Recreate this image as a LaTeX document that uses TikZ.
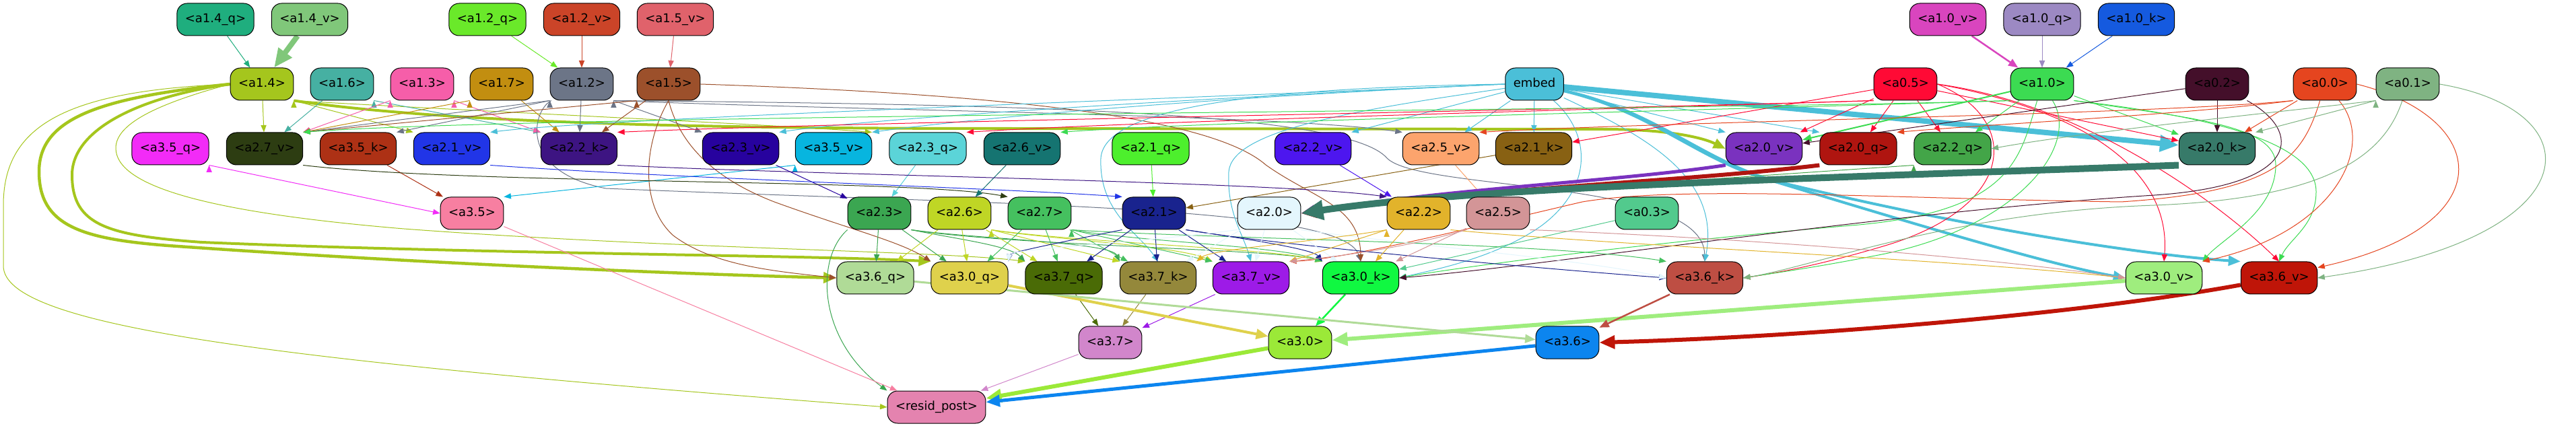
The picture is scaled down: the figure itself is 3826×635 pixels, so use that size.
\documentclass[tikz,border=0pt]{standalone}
\usepackage{fontspec}
\setmainfont{DejaVu Sans}
\usetikzlibrary{arrows.meta,backgrounds}

\definecolor{c14q}{HTML}{1FAE7E}
\definecolor{c14v}{HTML}{80C77A}
\definecolor{c14}{HTML}{A5C61D}
\definecolor{c16}{HTML}{46B0A2}
\definecolor{c13}{HTML}{F65EA9}
\definecolor{c17}{HTML}{C28E10}
\definecolor{c12q}{HTML}{6AE92A}
\definecolor{c12v}{HTML}{CB4428}
\definecolor{c15v}{HTML}{E0626B}
\definecolor{c12}{HTML}{6C7587}
\definecolor{c15}{HTML}{9C502B}
\definecolor{c35q}{HTML}{F22BF7}
\definecolor{c27v}{HTML}{2D3D12}
\definecolor{c35k}{HTML}{AD3115}
\definecolor{c21v}{HTML}{2135E7}
\definecolor{c22k}{HTML}{3D1482}
\definecolor{c23v}{HTML}{27029E}
\definecolor{c35v}{HTML}{07B5DF}
\definecolor{c23q}{HTML}{5BD4D8}
\definecolor{c26v}{HTML}{157471}
\definecolor{c21q}{HTML}{4DEF2D}
\definecolor{c22v}{HTML}{4D16EF}
\definecolor{c25v}{HTML}{FCA46D}
\definecolor{c21k}{HTML}{886113}
\definecolor{cemb}{HTML}{4BBFD8}
\definecolor{c20v}{HTML}{7A32BF}
\definecolor{c20q}{HTML}{AF1510}
\definecolor{c22q}{HTML}{43A548}
\definecolor{c20k}{HTML}{377A69}
\definecolor{c05}{HTML}{FF0A35}
\definecolor{c10}{HTML}{3CDB52}
\definecolor{c10v}{HTML}{D945BE}
\definecolor{c10q}{HTML}{9C89C3}
\definecolor{c10k}{HTML}{155ADF}
\definecolor{c02}{HTML}{440F2A}
\definecolor{c00}{HTML}{E5451F}
\definecolor{c01}{HTML}{7FB382}
\definecolor{c35}{HTML}{F77FA1}
\definecolor{c23}{HTML}{3BA651}
\definecolor{c26}{HTML}{BFD625}
\definecolor{c27}{HTML}{45C05F}
\definecolor{c21}{HTML}{19238E}
\definecolor{c20}{HTML}{E4F6FD}
\definecolor{c22}{HTML}{E2B32B}
\definecolor{c25}{HTML}{D39597}
\definecolor{c03}{HTML}{52CA8D}
\definecolor{c36q}{HTML}{B0DB97}
\definecolor{c30q}{HTML}{DFD14C}
\definecolor{c37q}{HTML}{4A6B06}
\definecolor{c37k}{HTML}{94883B}
\definecolor{c37v}{HTML}{9D1BE7}
\definecolor{c30k}{HTML}{10F841}
\definecolor{c36k}{HTML}{BE4E43}
\definecolor{c30v}{HTML}{9FED7E}
\definecolor{c36v}{HTML}{BF1508}
\definecolor{c37}{HTML}{D186CB}
\definecolor{c30}{HTML}{9BE938}
\definecolor{c36}{HTML}{0C85EF}
\definecolor{crp}{HTML}{E483AF}

\tikzset{
	box/.style={draw=black, line width=1pt, rounded corners=15pt, minimum height=48pt,
		inner xsep=12pt, inner ysep=0pt, text height=13pt, text depth=4pt,
		font=\fontsize{18}{20}\selectfont},
	wire/.style={line width=#1, -{Triangle[length=8pt 2.5,width=6pt 2.2]}},
	wire/.default=1pt
}

\begin{document}
\begin{tikzpicture}[x=1pt,y=1pt]

	\useasboundingbox (0,0) rectangle (3826,635);

	% inputs
	\node [box, fill=c14q] (a14q) at (320,606) {<a1.4\_q>};
	\node [box, fill=c14v] (a14v) at (460,606) {<a1.4\_v>};
	\node [box, fill=c12q] (a12q) at (724,606) {<a1.2\_q>};
	\node [box, fill=c12v] (a12v) at (864,606) {<a1.2\_v>};
	\node [box, fill=c15v] (a15v) at (1003,606) {<a1.5\_v>};
	\node [box, fill=c10v] (a10v) at (2893,606) {<a1.0\_v>};
	\node [box, fill=c10q] (a10q) at (3033,606) {<a1.0\_q>};
	\node [box, fill=c10k] (a10k) at (3173,606) {<a1.0\_k>};

	\node [box, fill=c14] (a14) at (389,510) {<a1.4>};
	\node [box, fill=c16] (a16) at (508,510) {<a1.6>};
	\node [box, fill=c13] (a13) at (627,510) {<a1.3>};
	\node [box, fill=c17] (a17) at (745,510) {<a1.7>};
	\node [box, fill=c12] (a12) at (864,510) {<a1.2>};
	\node [box, fill=c15] (a15) at (993,510) {<a1.5>};
	\node [box, fill=cemb] (emb) at (2279,510) {embed};
	\node [box, fill=c05] (a05) at (2830,510) {<a0.5>};
	\node [box, fill=c10] (a10) at (3033,510) {<a1.0>};
	\node [box, fill=c02] (a02) at (3293,510) {<a0.2>};
	\node [box, fill=c00] (a00) at (3453,510) {<a0.0>};
	\node [box, fill=c01] (a01) at (3576,510) {<a0.1>};

	\node [box, fill=c35q] (a35q) at (253,414) {<a3.5\_q>};
	\node [box, fill=c27v] (a27v) at (393,414) {<a2.7\_v>};
	\node [box, fill=c35k] (a35k) at (532,414) {<a3.5\_k>};
	\node [box, fill=c21v] (a21v) at (671,414) {<a2.1\_v>};
	\node [box, fill=c22k] (a22k) at (860,414) {<a2.2\_k>};
	\node [box, fill=c23v] (a23v) at (1100,414) {<a2.3\_v>};
	\node [box, fill=c35v] (a35v) at (1238,414) {<a3.5\_v>};
	\node [box, fill=c23q] (a23q) at (1378,414) {<a2.3\_q>};
	\node [box, fill=c26v] (a26v) at (1518,414) {<a2.6\_v>};
	\node [box, fill=c21q] (a21q) at (1709,414) {<a2.1\_q>};
	\node [box, fill=c22v] (a22v) at (1950,414) {<a2.2\_v>};
	\node [box, fill=c25v] (a25v) at (2140,414) {<a2.5\_v>};
	\node [box, fill=c21k] (a21k) at (2278,414) {<a2.1\_k>};
	\node [box, fill=c20v] (a20v) at (2620,414) {<a2.0\_v>};
	\node [box, fill=c20q] (a20q) at (2760,414) {<a2.0\_q>};
	\node [box, fill=c22q] (a22q) at (2900,414) {<a2.2\_q>};
	\node [box, fill=c20k] (a20k) at (3293,414) {<a2.0\_k>};

	\node [box, fill=c35] (a35) at (701,318) {<a3.5>};
	\node [box, fill=c23] (a23) at (1306,318) {<a2.3>};
	\node [box, fill=c26] (a26) at (1425,318) {<a2.6>};
	\node [box, fill=c27] (a27) at (1544,318) {<a2.7>};
	\node [box, fill=c21] (a21) at (1714,318) {<a2.1>};
	\node [box, fill=c20] (a20) at (1885,318) {<a2.0>};
	\node [box, fill=c22] (a22) at (2107,318) {<a2.2>};
	\node [box, fill=c25] (a25) at (2225,318) {<a2.5>};
	\node [box, fill=c03] (a03) at (2446,318) {<a0.3>};

	\node [box, fill=c36q] (a36q) at (1300,222) {<a3.6\_q>};
	\node [box, fill=c30q] (a30q) at (1440,222) {<a3.0\_q>};
	\node [box, fill=c37q] (a37q) at (1580,222) {<a3.7\_q>};
	\node [box, fill=c37k] (a37k) at (1720,222) {<a3.7\_k>};
	\node [box, fill=c37v] (a37v) at (1858,222) {<a3.7\_v>};
	\node [box, fill=c30k] (a30k) at (2021,222) {<a3.0\_k>};
	\node [box, fill=c36k] (a36k) at (2532,222) {<a3.6\_k>};
	\node [box, fill=c30v] (a30v) at (3214,222) {<a3.0\_v>};
	\node [box, fill=c36v] (a36v) at (3385,222) {<a3.6\_v>};

	\node [box, fill=c37] (a37) at (1649,126) {<a3.7>};
	\node [box, fill=c30] (a30) at (1931,126) {<a3.0>};
	\node [box, fill=c36] (a36) at (2328,126) {<a3.6>};

	\node [box, fill=crp] (rp) at (1391,30) {<resid\_post>};

	\begin{scope}[on background layer]
	\fill [white] (0,0) rectangle (3826,635);

	% layer 1 inputs
	\draw [wire, c14q] (a14q) edge (a14);
	\draw [wire=8pt, c14v] (a14v) edge (a14);
	\draw [wire, c12q] (a12q) edge (a12);
	\draw [wire, c12v] (a12v) edge (a12);
	\draw [wire, c15v] (a15v) edge (a15);
	\draw [wire=2.5pt, c10v] (a10v) edge (a10);
	\draw [wire, c10q] (a10q) edge (a10);
	\draw [wire, c10k] (a10k) edge (a10);

	% from a1.4
	\draw [wire, c14] (a14) edge (a27v);
	\draw [wire, c14] (a14.south east) edge (a21v.north west);
	\draw [wire, c14] (a14.south east) .. controls (700,470) and (1150,450) .. (a35v.north east);
	\draw [wire=4pt, c14] (a14.south east) .. controls (700,446) and (1200,444) .. (1500,444) -- (2380,443) .. controls (2480,443) and (2530,430) .. (a20v.west);
	\draw [wire=4.5pt, c14] (a14.west) .. controls (150,490) and (58,460) .. (58,380) .. controls (58,300) and (120,280) .. (250,270) .. controls (600,245) and (1000,228) .. (a36q.west);
	\draw [wire=4pt, c14] (a14.west) .. controls (200,490) and (107,440) .. (107,375) .. controls (107,300) and (160,285) .. (300,275) .. controls (700,258) and (1200,256) .. (a30q.north west);
	\draw [wire, c14] (a14.west) .. controls (230,480) and (172,450) .. (172,415) .. controls (172,360) and (300,320) .. (600,295) .. controls (1000,265) and (1400,262) .. (a37q.north west);
	\draw [wire, c14] (a14.west) .. controls (100,500) and (5,450) .. (5,330) -- (5,240) .. controls (5,150) and (400,100) .. (rp.west);

	% layer 1 heads
	\draw [wire, c16] (a16) edge (a27v);
	\draw [wire, c16] (a16.south east) edge (a22k.north west);
	\draw [wire, c13] (a13.south west) edge (a27v.north east);
	\draw [wire, c13] (a13.south east) edge (a22k.north west);
	\draw [wire, c17] (a17.south west) edge (a27v.north east);
	\draw [wire, c17] (a17) edge (a22k);
	\draw [wire, c12] (a12) edge (a22k);
	\draw [wire, c12] (a12.south west) edge (a27v.north east);
	\draw [wire, c12] (a12.south west) edge (a35k.north east);
	\draw [wire, c12] (a12.south east) edge (a23v.north west);
	\draw [wire, c12] (a12.south east) .. controls (1300,470) and (1900,465) .. (a25v.north west);
	\draw [wire, c12] (a12) .. controls (790,470) and (770,380) .. (900,355) .. controls (1500,330) and (1995,330) .. (a30k.north);
	\draw [wire, c12] (a12.south east) .. controls (1500,480) and (2000,470) .. (2060,400) .. controls (2110,350) and (2530,370) .. (a36k.north);
	\draw [wire, c15] (a15) edge (a22k);
	\draw [wire, c15] (a15.south west) edge (a27v.north east);
	\draw [wire, c15] (a15.south) .. controls (955,420) and (950,330) .. (1000,285) .. controls (1060,240) and (1150,232) .. (a36q.west);
	\draw [wire, c15] (a15.south) .. controls (1010,420) and (1060,370) .. (1150,335) .. controls (1260,295) and (1340,275) .. (a30q.north west);
	\draw [wire, c15] (a15.east) .. controls (1500,495) and (1800,460) .. (1880,390) .. controls (1950,340) and (2020,330) .. (a30k.north);

	% from embed
	\draw [wire, cemb] (emb.west) .. controls (1800,490) and (900,460) .. (a21v.north east);
	\draw [wire, cemb] (emb.west) .. controls (1800,490) and (1300,460) .. (a23v.north east);
	\draw [wire, cemb] (emb.west) .. controls (1800,490) and (1450,460) .. (a35v.north east);
	\draw [wire, cemb] (emb) edge (a22v.north east);
	\draw [wire, cemb] (emb) edge (a25v);
	\draw [wire, cemb] (emb) edge (a21k);
	\draw [wire, cemb] (emb) edge (a20v.north west);
	\draw [wire, cemb] (emb) edge (a20q.north west);
	\draw [wire=8pt, cemb] (emb) edge (a20k);
	\draw [wire, cemb] (emb.west) .. controls (1900,505) and (1640,480) .. (1635,400) .. controls (1632,320) and (1690,290) .. (a37k.north);
	\draw [wire, cemb] (emb) .. controls (2000,470) and (1830,440) .. (1825,380) .. controls (1822,320) and (1845,290) .. (a37v.north);
	\draw [wire, cemb] (emb) .. controls (2360,440) and (2370,360) .. (2290,300) .. controls (2220,250) and (2120,232) .. (a30k.east);
	\draw [wire, cemb] (emb) .. controls (2450,430) and (2555,370) .. (a36k.north);
	\draw [wire=4pt, cemb] (emb) .. controls (2450,470) and (2520,400) .. (2620,370) .. controls (2850,300) and (3050,240) .. (a30v.west);
	\draw [wire=4pt, cemb] (emb) .. controls (2460,470) and (2530,395) .. (2640,365) .. controls (2950,290) and (3200,255) .. (a36v.north west);

	% from a0.5
	\draw [wire, c05] (a05.south west) .. controls (2300,470) and (1300,455) .. (a22k.north east);
	\draw [wire, c05] (a05.south west) .. controls (2300,470) and (1700,455) .. (a23q.north east);
	\draw [wire, c05] (a05) edge (a21k);
	\draw [wire, c05] (a05) edge (a20v);
	\draw [wire, c05] (a05) edge (a20q);
	\draw [wire, c05] (a05) edge (a22q);
	\draw [wire, c05] (a05) edge (a20k);
	\draw [wire, c05] (a05.east) .. controls (3100,470) and (3225,380) .. (a30v.north);
	\draw [wire, c05] (a05.east) .. controls (3100,480) and (3300,330) .. (a36v.north);
	\draw [wire, c05] (a05.east) .. controls (3000,460) and (3000,330) .. (2800,270) .. controls (2700,240) and (2630,228) .. (a36k.east);

	% from a1.0
	\draw [wire, c10] (a10.south west) .. controls (2500,470) and (800,465) .. (a27v.north east);
	\draw [wire, c10] (a10.south west) .. controls (2500,470) and (1800,455) .. (a26v.north east);
	\draw [wire=2pt, c10] (a10) edge (a20v);
	\draw [wire, c10] (a10) edge (a22q);
	\draw [wire, c10] (a10) edge (a20k);
	\draw [wire, c10] (a10.south east) .. controls (3250,460) and (3380,450) .. (3380,390) .. controls (3380,320) and (3300,280) .. (a30v.north east);
	\draw [wire, c10] (a10.south east) .. controls (3300,460) and (3440,420) .. (3440,350) .. controls (3440,300) and (3400,280) .. (a36v.north);
	\draw [wire, c10] (a10) .. controls (3090,420) and (3000,300) .. (2800,258) .. controls (2700,238) and (2640,230) .. (a36k.east);
	\draw [wire, c10] (a10) .. controls (3000,400) and (2990,320) .. (2750,300) .. controls (2400,270) and (2150,235) .. (a30k.east);

	% from a0.2, a0.0, a0.1, a0.3
	\draw [wire, c02] (a02) edge (a20k);
	\draw [wire, c02] (a02) edge (a20v);
	\draw [wire, c02] (a02) .. controls (3420,440) and (3420,360) .. (3200,345) .. controls (2800,320) and (2300,240) .. (a30k.east);
	\draw [wire, c00] (a00) edge (a20k);
	\draw [wire, c00] (a00.south west) .. controls (3250,465) and (2950,450) .. (a20q.north east);
	\draw [wire, c00] (a00.south west) .. controls (3200,465) and (2500,455) .. (a25v.north east);
	\draw [wire, c00] (a00) .. controls (3530,420) and (3470,290) .. (a30v.north east);
	\draw [wire, c00] (a00.east) .. controls (3700,460) and (3720,300) .. (a36v.15);
	\draw [wire, c00] (a00) .. controls (3420,400) and (3380,350) .. (3150,335) .. controls (2800,340) and (2500,360) .. (2350,335) .. controls (2200,300) and (2000,250) .. (a37v.north east);
	\draw [wire, c01] (a01.south west) .. controls (3400,470) and (3100,440) .. (a22q.east);
	\draw [wire, c01] (a01.south west) edge (a20k.north east);
	\draw [wire, c01] (a01) .. controls (3540,400) and (3450,340) .. (3200,330) .. controls (2900,320) and (2700,240) .. (a36k.east);
	\draw [wire, c01] (a01.east) .. controls (3860,470) and (3850,280) .. (a36v.east);
	\draw [wire, c03] (a03) edge (a30k);

	% layer 2 inputs
	\draw [wire, c35q] (a35q.south east) edge (a35.west);
	\draw [wire, c35k] (a35k) edge (a35);
	\draw [wire, c35v] (a35v.south west) edge (a35.north east);
	\draw [wire, c23v] (a23v) edge (a23);
	\draw [wire, c23q] (a23q) edge (a23);
	\draw [wire, c27v] (a27v.south east) .. controls (700,360) and (1350,370) .. (a27.north west);
	\draw [wire, c26v] (a26v) edge (a26);
	\draw [wire, c21q] (a21q) edge (a21);
	\draw [wire, c21v] (a21v.south east) .. controls (1000,370) and (1500,355) .. (a21.north west);
	\draw [wire, c21k] (a21k) edge (a21);
	\draw [wire, c22k] (a22k.south east) .. controls (1200,375) and (1900,365) .. (a22.north west);
	\draw [wire, c22v] (a22v) edge (a22);
	\draw [wire, c22q] (a22q.south west) edge (a22.north east);
	\draw [wire, c25v] (a25v) edge (a25);
	\draw [wire=5pt, c20v] (a20v.south west) .. controls (2400,365) and (2150,355) .. (a20.east);
	\draw [wire=6pt, c20q] (a20q.south west) .. controls (2500,365) and (2200,355) .. (a20.east);
	\draw [wire=10pt, c20k] (a20k.south west) .. controls (2700,370) and (2200,358) .. (a20.east);

	% layer 2 heads
	\draw [wire, c23] (a23) edge (a36q);
	\draw [wire, c23] (a23) edge (a30q);
	\draw [wire, c23] (a23.south east) .. controls (1420,280) and (1500,270) .. (a37q.north west);
	\draw [wire, c23] (a23.south east) .. controls (1450,280) and (1650,275) .. (a37k.north west);
	\draw [wire, c23] (a23.south east) .. controls (1500,270) and (1900,265) .. (a30k.north west);
	\draw [wire, c23] (a23.south west) .. controls (1210,250) and (1215,130) .. (rp.north west);
	\draw [wire, c26] (a26) edge (a36q);
	\draw [wire, c26] (a26) edge (a30q);
	\draw [wire, c26] (a26) edge (a37q);
	\draw [wire, c26] (a26.south east) edge (a37k.north west);
	\draw [wire, c26] (a26.south east) .. controls (1550,280) and (1750,270) .. (a37v.north west);
	\draw [wire, c26] (a26.south east) .. controls (1600,275) and (1900,265) .. (a30k.north west);
	\draw [wire, c27] (a27) edge (a30q);
	\draw [wire, c27] (a27) edge (a37q);
	\draw [wire, c27] (a27) edge (a37k);
	\draw [wire, c27] (a27.south east) edge (a37v.north west);
	\draw [wire, c27] (a27.south east) .. controls (1700,275) and (1900,270) .. (a30k.north west);
	\draw [wire, c27] (a27.south east) .. controls (1800,280) and (2300,275) .. (a36k.north west);
	\draw [wire, c21] (a21.south west) .. controls (1600,280) and (1500,260) .. (a30q.north east);
	\draw [wire, c21] (a21) edge (a37q);
	\draw [wire, c21] (a21) edge (a37k);
	\draw [wire, c21] (a21) edge (a37v);
	\draw [wire, c21] (a21.south east) .. controls (1850,280) and (1950,265) .. (a30k.north west);
	\draw [wire, c21] (a21.south east) .. controls (1900,270) and (2300,235) .. (a36k.west);
	\draw [wire, c20] (a20.south west) .. controls (1700,275) and (1500,265) .. (a30q.north east);
	\draw [wire, c20] (a20) edge (a37k);
	\draw [wire, c20] (a20) edge (a37v);
	\draw [wire, c20] (a20) edge (a30k);
	\draw [wire, c20] (a20.south east) .. controls (2100,270) and (2350,250) .. (a36k.west);
	\draw [wire, c22] (a22.south west) .. controls (1950,275) and (1800,265) .. (a37k.north east);
	\draw [wire, c22] (a22.south west) edge (a37v.north east);
	\draw [wire, c22] (a22) edge (a30k);
	\draw [wire, c22] (a22.south east) .. controls (2400,270) and (2900,250) .. (a30v.west);
	\draw [wire, c25] (a25) edge (a30k);
	\draw [wire, c25] (a25.south west) .. controls (2100,270) and (2000,255) .. (a37v.north east);
	\draw [wire, c25] (a25.south east) .. controls (2500,285) and (2900,260) .. (a30v.west);

	% layer 3
	\draw [wire, c37q] (a37q) edge (a37);
	\draw [wire, c37k] (a37k) edge (a37);
	\draw [wire, c37v] (a37v) edge (a37);
	\draw [wire=4pt, c30q] (a30q) edge (a30);
	\draw [wire=2.5pt, c30k] (a30k) edge (a30);
	\draw [wire=6pt, c30v] (a30v) edge (a30);
	\draw [wire=3pt, c36q] (a36q) edge (a36);
	\draw [wire=2.5pt, c36k] (a36k) edge (a36);
	\draw [wire=6pt, c36v] (a36v) .. controls (3100,170) and (2700,135) .. (a36.east);

	% output
	\draw [wire, c35] (a35) edge (rp);
	\draw [wire, c37] (a37) edge (rp);
	\draw [wire=6pt, c30] (a30) edge (rp);
	\draw [wire=5pt, c36] (a36) edge (rp);
	\end{scope}

\end{tikzpicture}
\end{document}
